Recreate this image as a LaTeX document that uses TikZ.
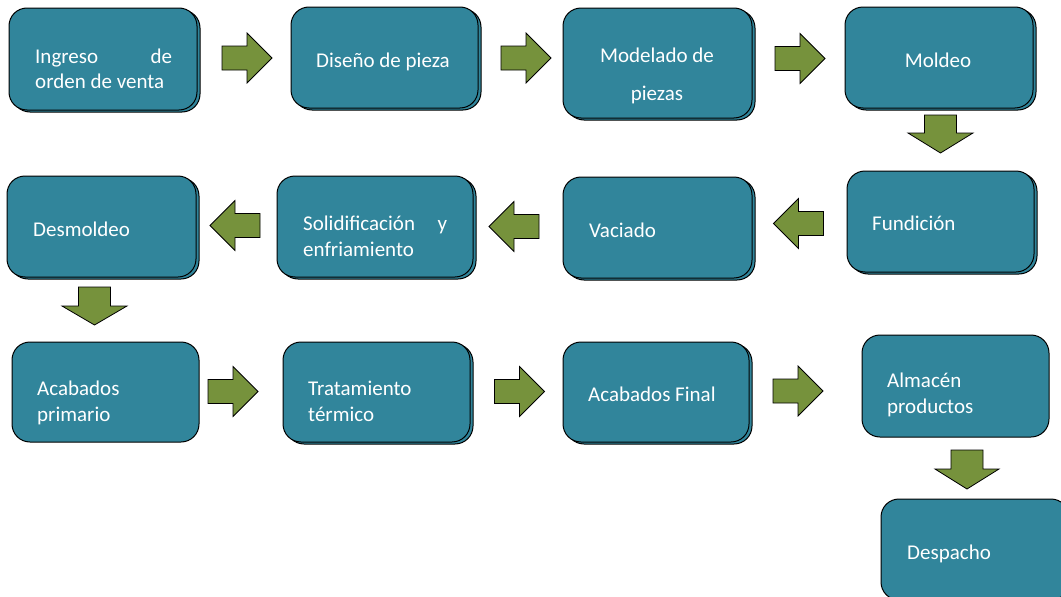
\documentclass[tikz,border=0pt]{standalone}
\usepackage{fontspec}
\setmainfont{Carlito}
\usepackage{calc}
\usetikzlibrary{shadows}
\definecolor{boxteal}{RGB}{49,133,155}
\definecolor{arrgreen}{RGB}{118,146,60}
\tikzset{
  procbox/.style={draw=black, fill=boxteal, line width=1pt, rounded corners=18pt, inner sep=0pt},
  stacked/.style={general shadow={shadow xshift=3pt, shadow yshift=-2pt, fill=boxteal, draw=black, line width=1pt}},
  lbl/.style={text=white, font=\fontsize{21}{26}\selectfont, inner sep=0pt, align=left, anchor=base west},
  clbl/.style={text=white, font=\fontsize{21}{26}\selectfont, inner sep=0pt, align=center, anchor=base},
  blockarrow/.style={draw=black, fill=arrgreen, line width=0.8pt, line join=miter}
}
% #1,#2 centre; #3 angle; #4 half length; #5 head length; #6 head half width; #7 shaft half width
\newcommand\blkarrow[7]{%
  \begin{scope}[shift={(#1,#2)}, rotate=#3]
    \draw[blockarrow] (-#4,-#7) -- ({#4-#5},-#7) -- ({#4-#5},-#6) -- (#4,0)
      -- ({#4-#5},#6) -- ({#4-#5},#7) -- (-#4,#7) -- cycle;
  \end{scope}}
\begin{document}
\begin{tikzpicture}[x=1pt,y=-1pt]
\path[use as bounding box] (0,0) rectangle (1061,597);
\clip (0,0) rectangle (1061,597);

% boxes
\node[procbox, stacked, minimum width=188pt, minimum height=102pt] (b1) at (103,59) {};
\node[procbox, stacked, minimum width=187pt, minimum height=101pt] (b2) at (384.5,57.5) {};
\node[procbox, stacked, minimum width=189pt, minimum height=110pt] (b3) at (657.5,63) {};
\node[procbox, stacked, minimum width=188pt, minimum height=101pt] (b4) at (939,57.5) {};
\node[procbox, stacked, minimum width=187pt, minimum height=101pt] (b5) at (940.5,221.5) {};
\node[procbox, stacked, minimum width=189pt, minimum height=101pt] (b6) at (657.5,227.5) {};
\node[procbox, stacked, minimum width=196pt, minimum height=101pt] (b7) at (375,226.5) {};
\node[procbox, stacked, minimum width=189pt, minimum height=101pt] (b8) at (101.5,226.5) {};
\node[procbox, minimum width=187pt, minimum height=100pt] (b9) at (105.5,392) {};
\node[procbox, stacked, minimum width=187pt, minimum height=100pt] (b10) at (376.5,392) {};
\node[procbox, stacked, minimum width=186pt, minimum height=100pt] (b11) at (656,392) {};
\node[procbox, minimum width=187pt, minimum height=102pt] (b12) at (955.5,386) {};
\node[procbox, minimum width=188pt, minimum height=101pt] (b13) at (975,549.5) {};

% labels (base anchor = baseline of the last line)
\node[lbl] (t1) at (35,88) {\makebox[137pt][l]{Ingreso\hfill de}\\[-1pt]orden de venta};
\node[clbl] (t2) at (383,67) {Diseño de pieza};
\node[clbl] (t3) at (657,100) {Modelado de\\[12pt]piezas};
\node[clbl] (t4) at (938,67) {Moldeo};
\node[lbl] (t5) at (872,230) {Fundición};
\node[lbl] (t6) at (589,237) {Vaciado};
\node[lbl] (t7) at (303,256) {\makebox[144pt][l]{Solidificación\hfill y}\\enfriamiento};
\node[lbl] (t8) at (33,236) {Desmoldeo};
\node[lbl] (t9) at (37,421) {Acabados\\primario};
\node[lbl] (t10) at (308,421) {Tratamiento\\térmico};
\node[lbl] (t11) at (588,401) {Acabados Final};
\node[lbl] (t12) at (887,413) {Almacén\\productos};
\node[lbl] (t13) at (907,559) {Despacho};

% block arrows
\blkarrow{247}{58}{0}{25}{25}{25}{12}
\blkarrow{526}{58}{0}{25}{25}{25}{12}
\blkarrow{800}{58.5}{0}{25}{25}{25}{12}
\blkarrow{940.5}{134}{-90}{19}{20}{32.5}{16}
\blkarrow{798.5}{223.5}{180}{25}{25}{25}{12}
\blkarrow{514}{226.5}{180}{25}{25}{25}{12}
\blkarrow{235}{225.5}{180}{25}{25}{25}{12}
\blkarrow{94.5}{306}{-90}{19}{19}{32.5}{16}
\blkarrow{233}{391.5}{0}{25}{25}{25}{12}
\blkarrow{519.5}{391.5}{0}{25}{25}{25}{12}
\blkarrow{798}{391}{0}{25}{25}{25}{12}
\blkarrow{967}{469.5}{-90}{19.5}{20}{32}{16}
\end{tikzpicture}
\end{document}
